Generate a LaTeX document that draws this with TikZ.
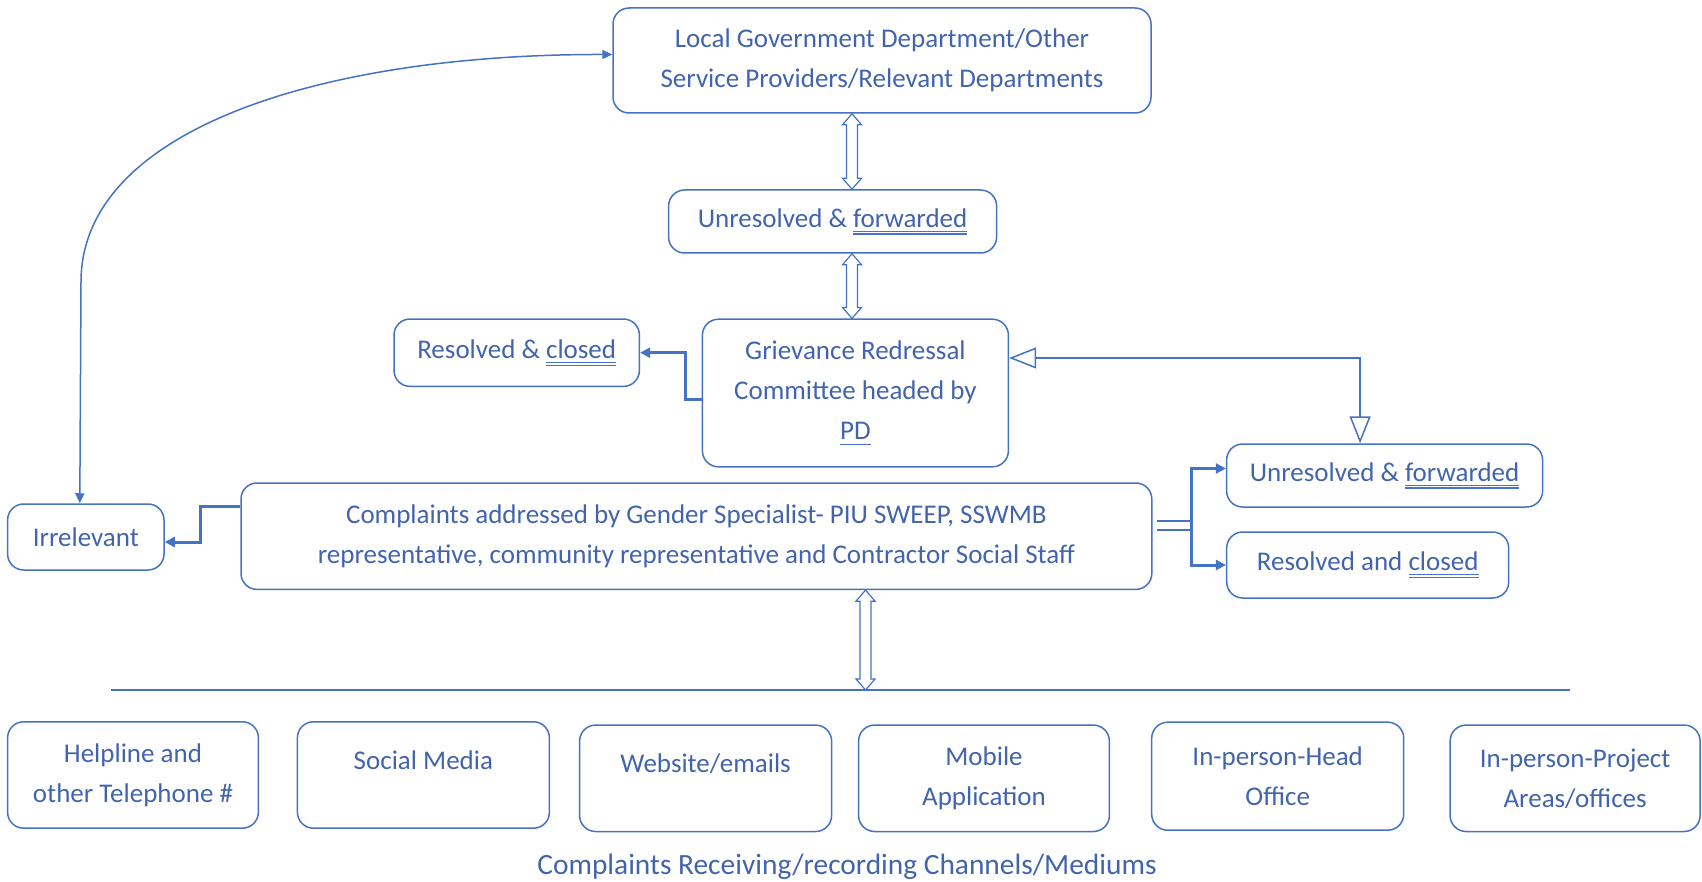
\documentclass[tikz,border=0pt]{standalone}
\usepackage{fontspec}
\setmainfont{Carlito}
\usepackage{tikz}
\usetikzlibrary{arrows.meta,calc}

\definecolor{txtblue}{RGB}{66,100,172}
\definecolor{lnblue}{RGB}{68,114,196}
\definecolor{ulblue}{RGB}{72,112,214}

\newcommand\sul[1]{\setbox0\hbox{#1}\leavevmode\rlap{\color{ulblue}\raisebox{-2.4pt}{\rule{\wd0}{0.55pt}}}\box0}
\newcommand\dul[1]{\setbox0\hbox{#1}\leavevmode\rlap{\color{ulblue}\raisebox{-2.4pt}{\rule{\wd0}{0.55pt}}}\rlap{\color{ulblue}\raisebox{-3.7pt}{\rule{\wd0}{0.55pt}}}\box0}
% outlined two-headed block arrow from #1 (upper) to #2 (lower)
\newcommand\dblarrow[2]{%
\draw[hollowarr] let \p1=(#1), \p2=(#2) in
 (\x1,\y1) -- (\x1-4.75pt,\y1-5.5pt) -- (\x1-2.75pt,\y1-5.5pt) -- (\x1-2.75pt,\y2+5.5pt)
 -- (\x1-4.75pt,\y2+5.5pt) -- (\x1,\y2) -- (\x1+4.75pt,\y2+5.5pt) -- (\x1+2.75pt,\y2+5.5pt)
 -- (\x1+2.75pt,\y1-5.5pt) -- (\x1+4.75pt,\y1-5.5pt) -- cycle;}

\begin{document}
\begin{tikzpicture}[x=0.5pt,y=-0.5pt,
  box/.style={draw=lnblue,line width=0.75pt,rounded corners=8pt,align=center,text=txtblue,font=\fontsize{13.5}{20}\selectfont,inner sep=2pt},
  upper/.style={text height=9.5pt,text depth=15pt},
  hollowarr/.style={draw=lnblue,line width=0.6pt,fill=white},
  thickarr/.style={lnblue,line width=1.5pt,-{Triangle[length=5pt,width=5pt]}},
  thinarr/.style={lnblue,line width=0.75pt,{Triangle[length=5pt,width=4.5pt]}-{Triangle[length=5pt,width=4.5pt]}},
  openarr/.style={lnblue,line width=0.75pt,{Triangle[open,length=13.5pt,width=10.5pt]}-{Triangle[open,length=13.5pt,width=10.5pt]}},
  dblline/.style={draw=lnblue,double=white,double distance=3.75pt,line width=0.75pt}]
\useasboundingbox (0,0) rectangle (1702,882);

\node (LG) at (882,60.5)[box,minimum width=269pt,minimum height=52.5pt] {Local Government Department/Other\\Service Providers/Relevant Departments};
\node (UF1) at (832.6,221.5)[box,minimum width=164pt,minimum height=31.5pt] {Unresolved \& \dul{forwarded}};
\node (GRC) at (855.4,393)[box,minimum width=153pt,minimum height=73.8pt] {Grievance Redressal\\Committee headed by\\\sul{PD}};
\node (RC1) at (516.7,352.7)[box,minimum width=122.7pt,minimum height=33.7pt] {Resolved \& \dul{closed}};
\node (CA) at (696.4,536.2)[box,minimum width=455.4pt,minimum height=53.2pt] {Complaints addressed by Gender Specialist- PIU SWEEP, SSWMB\\representative, community representative and Contractor Social Staff};
\node (IR) at (85.8,537)[box,minimum width=78.2pt,minimum height=33pt] {Irrelevant};
\node (UF2) at (1384.6,475.5)[box,minimum width=158pt,minimum height=31.5pt] {Unresolved \& \dul{forwarded}};
\node (RC2) at (1367.7,565)[box,minimum width=141pt,minimum height=33pt] {Resolved and \dul{closed}};

\node (C1) at (133,775)[box,minimum width=125.4pt,minimum height=53.2pt] {Helpline and\\other Telephone \#};
\node (C2) at (423.4,775)[box,upper,minimum width=126pt,minimum height=53.2pt] {Social Media};
\node (C3) at (705.6,778.3)[box,upper,minimum width=126pt,minimum height=53.2pt] {Website/emails};
\node (C4) at (984,778.3)[box,minimum width=125.4pt,minimum height=53.2pt] {Mobile\\Application};
\node (C5) at (1277.7,776.2)[box,minimum width=126pt,minimum height=54pt] {In-person-Head\\Office};
\node (C6) at (1575.1,778.3)[box,minimum width=125pt,minimum height=53.2pt] {In-person-Project\\Areas/offices};
\node (CAP) at (847,867)[text=txtblue,font=\fontsize{14.7}{17}\selectfont] {Complaints Receiving/recording Channels/Mediums};

\coordinate (L1) at (111,690);
\coordinate (L2) at (1570,690);
\draw [lnblue,line width=0.75pt] (L1) -- (L2);

\coordinate (ax1) at (852,0);
\coordinate (ax2) at (865.5,0);
\dblarrow{LG.south -| ax1}{UF1.north -| ax1}
\dblarrow{UF1.south -| ax1}{GRC.north -| ax1}
\dblarrow{CA.south -| ax2}{L1 -| ax2}

\draw [thickarr] ([yshift=-3.25pt]GRC.west) -- ++(-8pt,0) |- (RC1.east);
\draw [thickarr] ([yshift=15pt]CA.west) -- ++(-20pt,0) |- ([yshift=-2.5pt]IR.east);
\draw [openarr] ([yshift=17.5pt]GRC.east) -| ([xshift=-12.25pt]UF2.north);

\draw [dblline] ([xshift=2pt,yshift=5.3pt]CA.east) -- ++(17.5pt,0) coordinate (bus);
\draw [thickarr] ([yshift=5.3pt]bus) |- ([yshift=3.5pt]UF2.west);
\draw [thickarr] ([yshift=5.3pt]bus) |- (RC2.west);

\draw [thinarr] ([xshift=-3pt]IR.north) -- (81,282) .. controls (81,130) and (320,54) .. ([yshift=3pt]LG.west);
\end{tikzpicture}
\end{document}
